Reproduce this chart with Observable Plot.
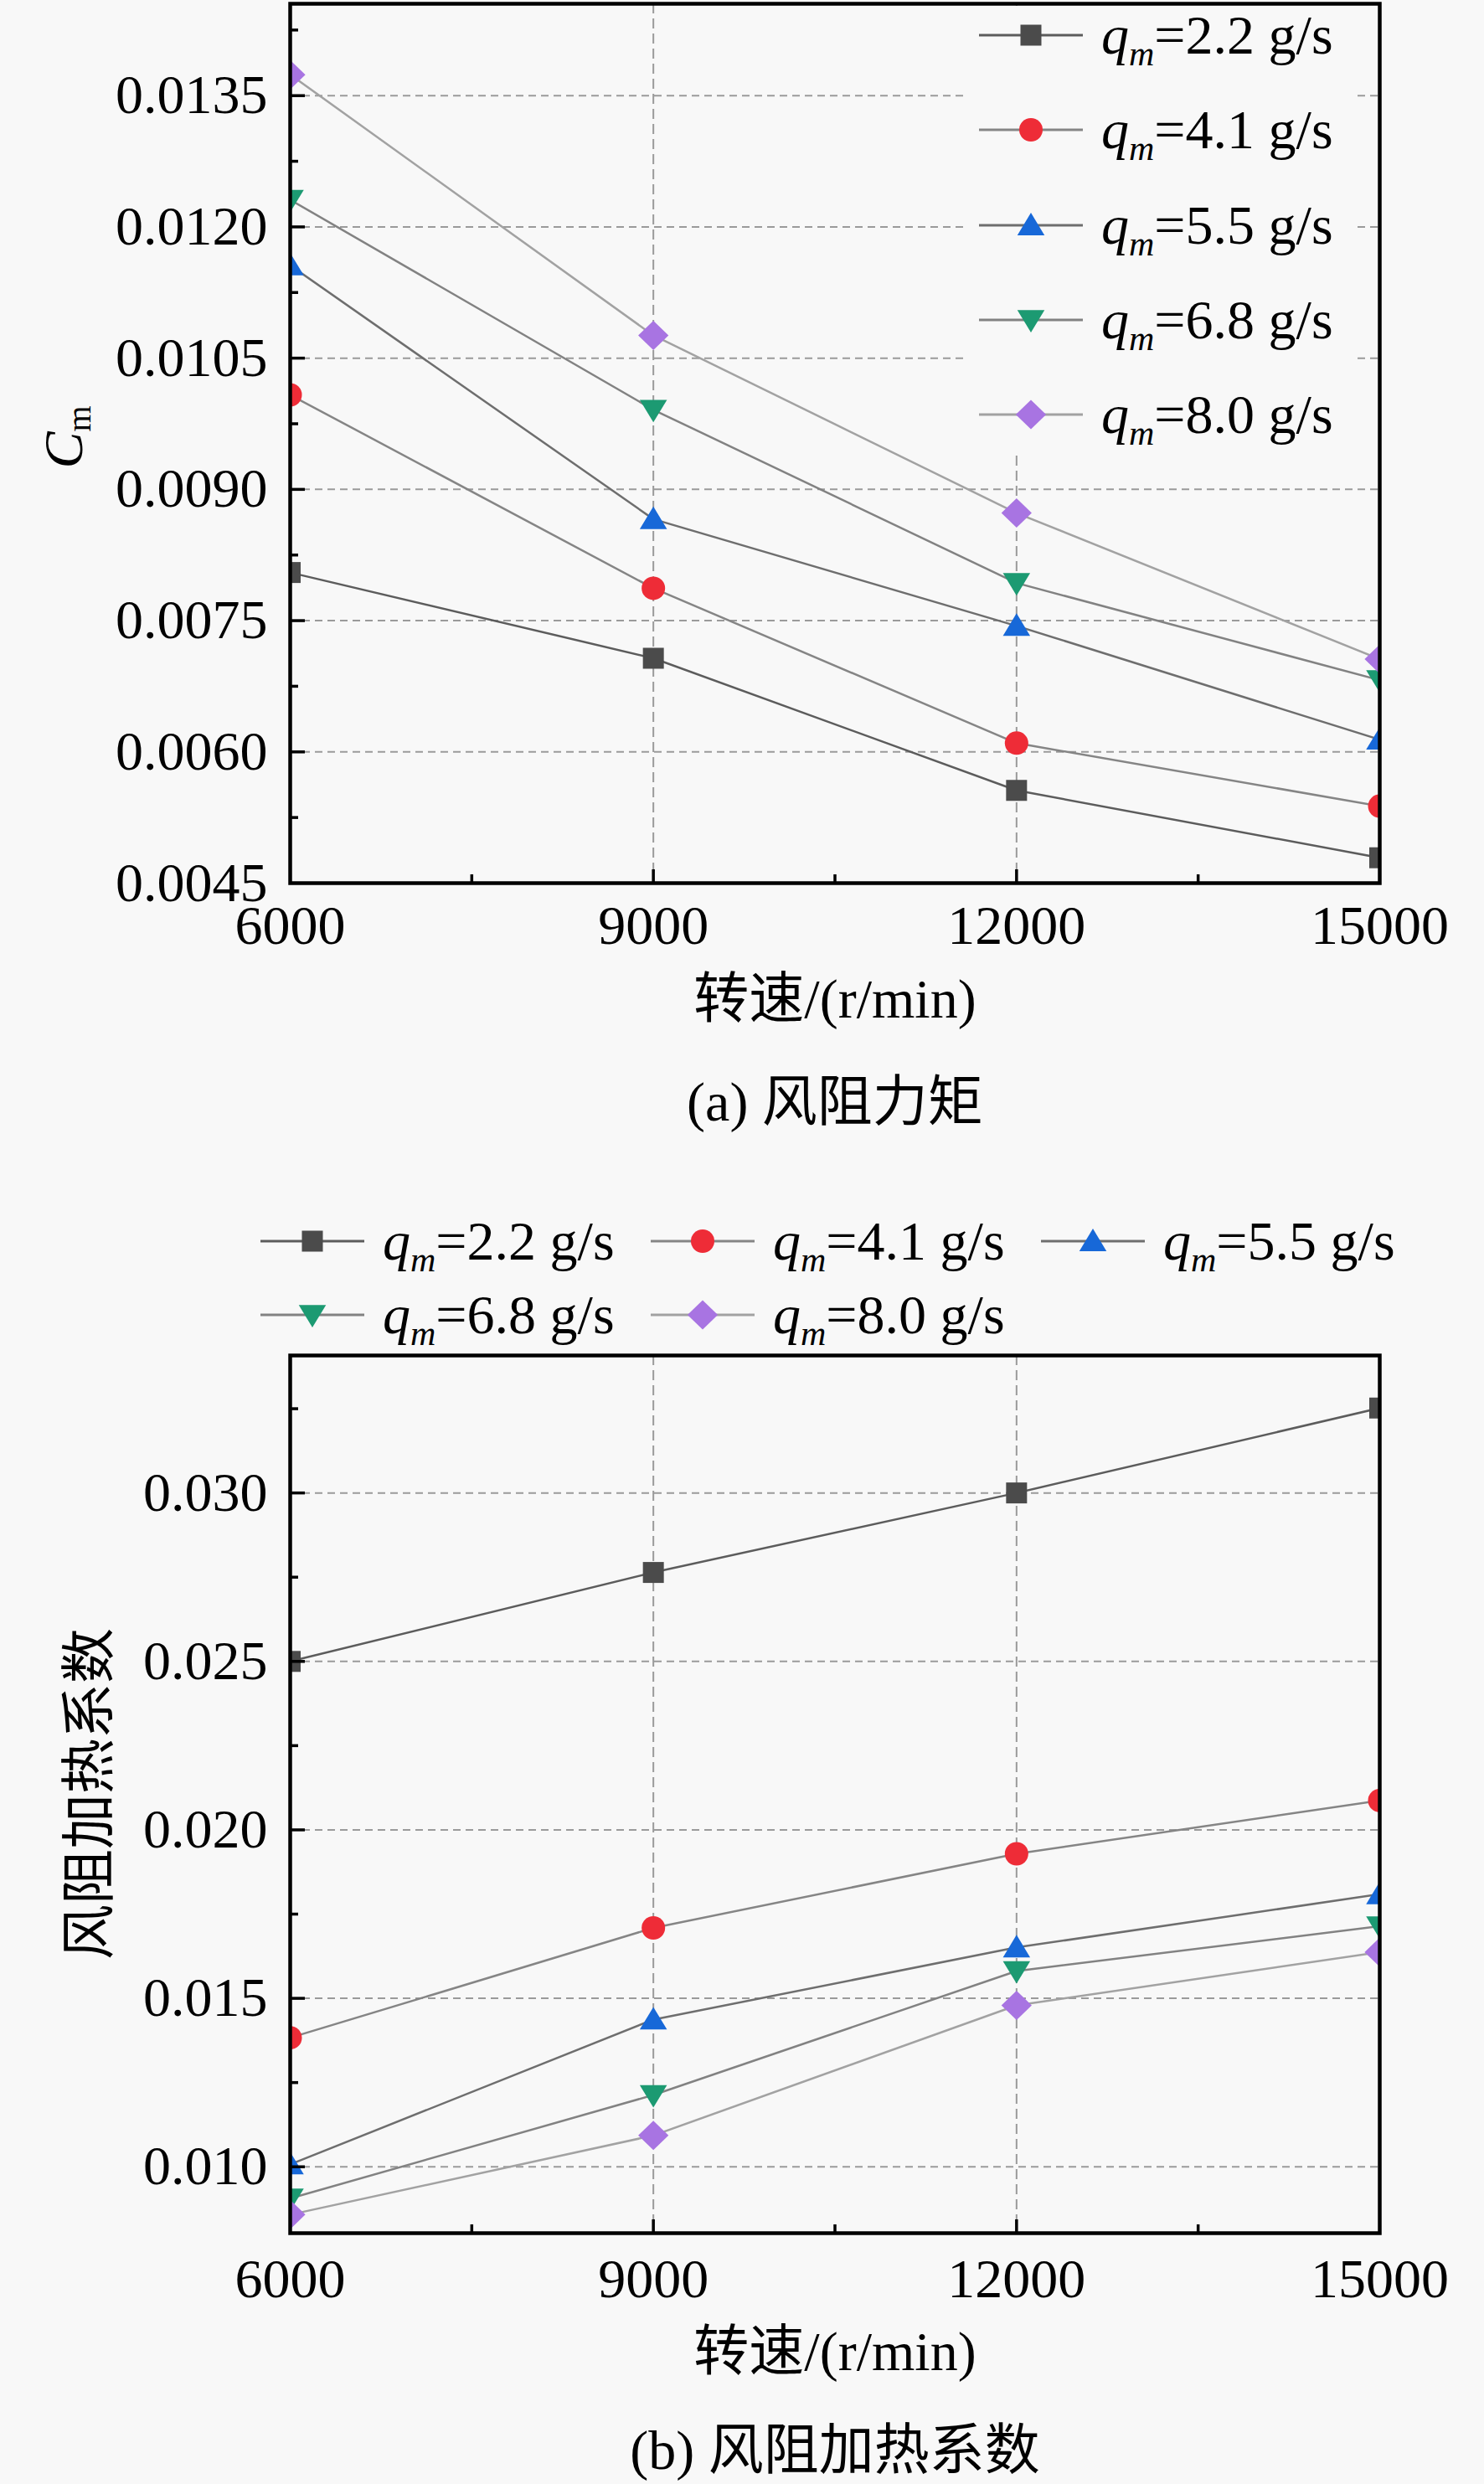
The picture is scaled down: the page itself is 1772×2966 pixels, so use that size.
<!DOCTYPE html>
<html>
<head>
<meta charset="utf-8">
<script src="https://cdn.jsdelivr.net/npm/d3@7"></script>
<script src="https://cdn.jsdelivr.net/npm/@observablehq/plot@0.6"></script>
<style>
html, body { margin: 0; padding: 0; background: #f8f8f8; }
#root { position: relative; width: 1772px; height: 2966px; background: #f8f8f8; overflow: hidden; }
#root > svg, #root > div { position: absolute; left: 0; }
</style>
</head>
<body>
<div id="root"></div>
<script>
// ---------------- data ----------------
const speeds = [6000, 9000, 12000, 15000];
const flowLabels = ["2.2", "4.1", "5.5", "6.8", "8.0"];

// (a) 风阻力矩 C_m
const cm22 = [0.00805, 0.00707, 0.00556, 0.00479];
const cm41 = [0.01008, 0.00787, 0.00610, 0.00538];
const cm55 = [0.01156, 0.00866, 0.00744, 0.00614];
const cm68 = [0.01231, 0.00991, 0.00793, 0.00682];
const cm80 = [0.01374, 0.01076, 0.00873, 0.00706];

// (b) 风阻加热系数
const hc22 = [0.02500, 0.02764, 0.03000, 0.03252];
const hc41 = [0.01383, 0.01709, 0.01929, 0.02087];
const hc55 = [0.01007, 0.01437, 0.01651, 0.01809];
const hc68 = [0.00906, 0.01213, 0.01581, 0.01714];
const hc80 = [0.00858, 0.01093, 0.01479, 0.01637];

// ticks
const xTicks = [6000, 9000, 12000, 15000];
const xMinor = [7500, 10500, 13500];
const xGrid = [9000, 12000];
const cmTicks = [0.0045, 0.0060, 0.0075, 0.0090, 0.0105, 0.0120, 0.0135];
const cmMinor = [0.00525, 0.00675, 0.00825, 0.00975, 0.01125, 0.01275, 0.01425];
const hcTicks = [0.010, 0.015, 0.020, 0.025, 0.030];
const hcMinor = [0.0125, 0.0175, 0.0225, 0.0275, 0.0325];

// text
const xTitle = "转速/(r/min)";
const captionA = "(a) 风阻力矩";
const captionB = "(b) 风阻加热系数";
const yTitleB = "风阻加热系数";

// styles
const BG = "#f8f8f8";
const fillColors = ["#4b4b4b", "#ee2c37", "#1768d8", "#1c9a72", "#a874e2"];
const lineColors = ["#5c5c5c", "#858585", "#6e6e6e", "#828282", "#a2a2a2"];
const SERIF = "'Liberation Serif', 'Times New Roman', serif";
const CJK = "'Liberation Serif', 'Noto Sans CJK SC', serif";

// custom marker shapes
const SQ = {draw(c, s) { const h = Math.sqrt(s / Math.PI); c.rect(-h, -h, 2 * h, 2 * h); }};
const CI = {draw(c, s) { const h = Math.sqrt(s / Math.PI) * 1.12; c.moveTo(h, 0); c.arc(0, 0, h, 0, 2 * Math.PI); }};
const TU = {draw(c, s) { const h = Math.sqrt(s / Math.PI); c.moveTo(0, -1.2 * h); c.lineTo(1.3 * h, 0.95 * h); c.lineTo(-1.3 * h, 0.95 * h); c.closePath(); }};
const TD = {draw(c, s) { const h = Math.sqrt(s / Math.PI); c.moveTo(0, 1.2 * h); c.lineTo(1.3 * h, -0.95 * h); c.lineTo(-1.3 * h, -0.95 * h); c.closePath(); }};
const DI = {draw(c, s) { const h = Math.sqrt(s / Math.PI); c.moveTo(0, -1.4 * h); c.lineTo(1.45 * h, 0); c.lineTo(0, 1.4 * h); c.lineTo(-1.45 * h, 0); c.closePath(); }};
const shapes = [SQ, CI, TU, TD, DI];
const R = 12.5;

const W = 1772, ML = 346, MR = 125;

function panel({series, yDomain, yTicks, yMinor, fmt, height, mt, mb, pad}) {
  const innerW = W - ML - MR;
  const innerH = height - mt - mb;
  const inside = v => v > yDomain[0] + 1e-9 && v < yDomain[1] - 1e-9;
  const marks = [];
  marks.push(Plot.ruleY(yTicks.filter(inside), {stroke: "#9a9a9a", strokeWidth: 2, strokeDasharray: "9,6"}));
  marks.push(Plot.ruleX(xGrid, {stroke: "#9a9a9a", strokeWidth: 2, strokeDasharray: "12,6"}));
  series.forEach((vals, i) => {
    const rows = speeds.map((s, j) => ({speed: s, value: vals[j], flow: flowLabels[i]}));
    marks.push(Plot.line(rows, {x: "speed", y: "value", stroke: lineColors[i], strokeWidth: 2.5, clip: true}));
  });
  series.forEach((vals, i) => {
    const rows = speeds.map((s, j) => ({speed: s, value: vals[j], flow: flowLabels[i]}));
    marks.push(Plot.dot(rows, {x: "speed", y: "value", symbol: shapes[i], r: R, fill: fillColors[i], stroke: "none", clip: true}));
  });
  marks.push(Plot.tickY(yTicks.filter(inside), {y: d => d, stroke: "#000", strokeWidth: 3.5, insetRight: innerW - 18}));
  marks.push(Plot.tickY(yMinor.filter(inside), {y: d => d, stroke: "#000", strokeWidth: 3.5, insetRight: innerW - 10}));
  marks.push(Plot.tickX(xGrid, {x: d => d, stroke: "#000", strokeWidth: 3.5, insetTop: innerH - 16}));
  marks.push(Plot.tickX(xMinor, {x: d => d, stroke: "#000", strokeWidth: 3.5, insetTop: innerH - 10}));
  marks.push(Plot.frame({stroke: "#000", strokeWidth: 4.5}));
  return Plot.plot({
    width: W, height,
    marginLeft: ML, marginRight: MR, marginTop: mt, marginBottom: mb,
    style: {background: "transparent", fontFamily: SERIF, fontSize: "66px", color: "#000", overflow: "visible"},
    x: {domain: [6000, 15000], ticks: xTicks, tickSize: 0, tickPadding: pad, tickFormat: d => String(d), label: null},
    y: {domain: yDomain, ticks: yTicks, tickSize: 0, tickPadding: 27, tickFormat: d3.format(fmt), label: null},
    marks
  });
}

const root = document.getElementById("root");

const plotA = panel({
  series: [cm22, cm41, cm55, cm68, cm80],
  yDomain: [0.0045, 0.01455], yTicks: cmTicks, yMinor: cmMinor, fmt: ".4f",
  height: 1160, mt: 4, mb: 106, pad: 26
});
plotA.style.top = "0px";
root.appendChild(plotA);

const plotB = panel({
  series: [hc22, hc41, hc55, hc68, hc80],
  yDomain: [0.00803, 0.03408], yTicks: hcTicks, yMinor: hcMinor, fmt: ".3f",
  height: 1200, mt: 58, mb: 94, pad: 30
});
plotB.style.top = "1560px";
root.appendChild(plotB);

// ---------------- overlay: legends and titles ----------------
const ov = d3.select(root).append("svg")
  .attr("width", W).attr("height", 2966)
  .style("top", "0px").style("position", "absolute").style("left", "0px");

function legendItem(g, i, lx, ly) {
  g.append("line").attr("x1", lx).attr("x2", lx + 124).attr("y1", ly).attr("y2", ly)
    .attr("stroke", lineColors[i]).attr("stroke-width", 3);
  g.append("path").attr("transform", `translate(${lx + 62},${ly})`)
    .attr("d", d3.symbol().type(shapes[i]).size(Math.PI * R * R)())
    .attr("fill", fillColors[i]);
  const t = g.append("text").attr("x", lx + 146).attr("y", ly + 22)
    .attr("font-family", SERIF).attr("font-size", 66);
  t.append("tspan").attr("font-style", "italic").text("q");
  t.append("tspan").attr("font-style", "italic").attr("font-size", 42).attr("dy", 14).text("m");
  t.append("tspan").attr("dy", -14).text("=" + flowLabels[i] + " g/s");
}

// top legend (inside panel a), with a background box
ov.append("rect").attr("x", 1150).attr("y", 7).attr("width", 466).attr("height", 537).attr("fill", BG);
const topRows = [42, 155, 269, 382, 495];
flowLabels.forEach((f, i) => legendItem(ov, i, 1169, topRows[i]));

// bottom legend (above panel b)
const botPos = [[311, 1482], [777, 1482], [1243, 1482], [311, 1570], [777, 1570]];
flowLabels.forEach((f, i) => legendItem(ov, i, botPos[i][0], botPos[i][1]));

// axis titles and captions
function ctext(x, y, s) {
  return ov.append("text").attr("x", x).attr("y", y).attr("text-anchor", "middle")
    .attr("font-family", CJK).attr("font-size", 66).text(s);
}
ctext(997, 1215, xTitle);
ctext(997, 1338, captionA);
ctext(997, 2830, xTitle);
ctext(997, 2948, captionB);

// y title (a): C_m
const cm = ov.append("text").attr("transform", "translate(98,522) rotate(-90)")
  .attr("text-anchor", "middle").attr("font-family", SERIF).attr("font-size", 66);
cm.append("tspan").attr("font-style", "italic").text("C");
cm.append("tspan").attr("font-size", 40).attr("dy", 10).text("m");

// y title (b)
ov.append("text").attr("transform", "translate(129,2142) rotate(-90)")
  .attr("text-anchor", "middle").attr("font-family", CJK).attr("font-size", 66).text(yTitleB);
</script>
</body>
</html>
